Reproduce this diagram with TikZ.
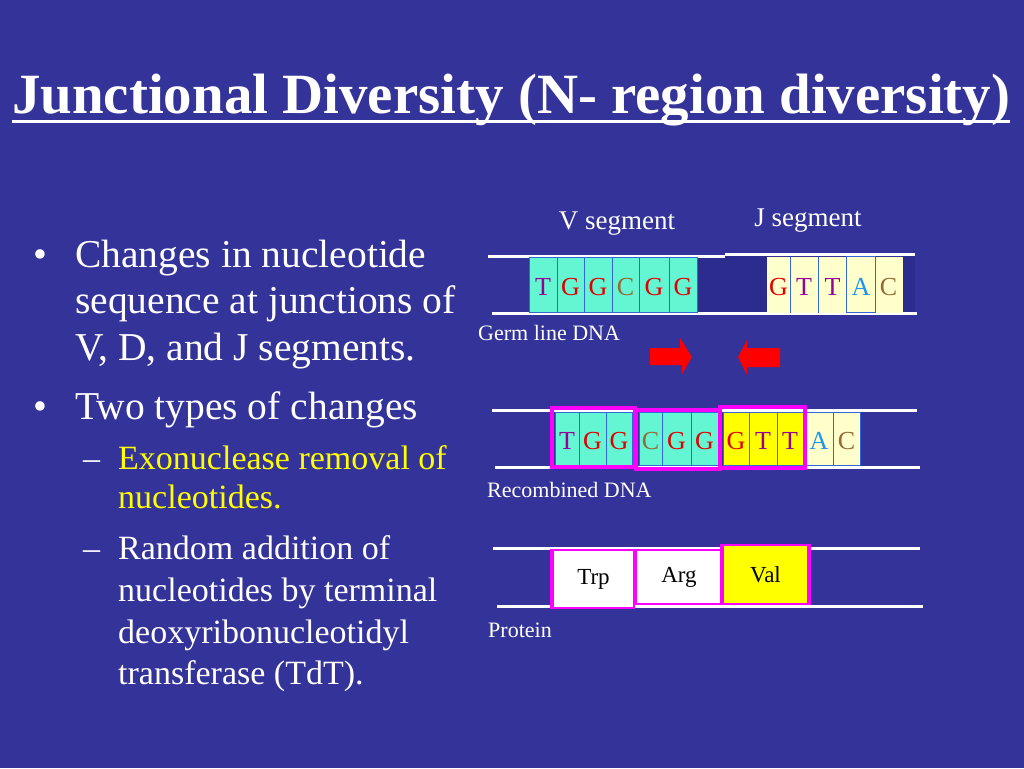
\documentclass[tikz,border=0pt]{standalone}
\usepackage{fontspec}
\setmainfont{Liberation Serif}
\usepackage{graphicx}
\definecolor{bg}{RGB}{51,51,153}
\definecolor{bgdark}{RGB}{44,44,142}
\definecolor{teal}{RGB}{100,245,210}
\definecolor{cream}{RGB}{255,255,204}
\definecolor{yel}{RGB}{255,255,0}
\definecolor{mag}{RGB}{255,0,255}
\definecolor{lred}{RGB}{225,0,0}
\definecolor{lpur}{RGB}{150,0,150}
\definecolor{lbrn}{RGB}{150,105,55}
\definecolor{lblu}{RGB}{30,150,235}
\definecolor{sep}{RGB}{51,102,214}
\definecolor{arrred}{RGB}{255,0,0}
\tikzset{
  txt/.style={anchor=base west, inner sep=0pt, text=white},
  mainfont/.style={font=\fontsize{39.5}{44}\selectfont},
  subfont/.style={font=\fontsize{34}{40}\selectfont},
  lbl/.style={anchor=base west, inner sep=0pt, text=white, font=\fontsize{22}{26}\selectfont},
  seglbl/.style={inner sep=0pt, text=white, font=\fontsize{27}{30}\selectfont},
  cell/.style={draw=sep, line width=1pt, inner sep=0pt, text height=22pt, text depth=0pt,
     font=\fontsize{26}{28}\selectfont},
  strand/.style={draw=white, line width=3pt},
  magbox/.style={draw=mag, line width=4pt},
  aa/.style={draw=mag, line width=1.5pt, inner sep=0pt, font=\fontsize{23}{26}\selectfont, text=black},
  redarrow/.style={fill=arrred}
}
\begin{document}
\begin{tikzpicture}[x=1pt,y=-1pt]
\fill[bg] (0,0) rectangle (1024,768);
\useasboundingbox (0,0) rectangle (1024,768);

% Title
\node[anchor=base west, inner sep=0pt, text=white] (title) at (12,113)
  {\resizebox{998pt}{!}{\fontsize{57}{60}\selectfont\bfseries Junctional Diversity (N- region diversity)}};
\coordinate (ulA) at (12,121);
\coordinate (ulB) at (1010,121);
\draw[white, line width=3pt] (ulA) -- (ulB);

% Bullets
\node[txt, mainfont] (b1) at (33,267) {\textbullet};
\node[txt, mainfont] (l1) at (75,267) {Changes in nucleotide};
\node[txt, mainfont] (l2) at (75,313) {sequence at junctions of};
\node[txt, mainfont] (l3) at (75,360) {V, D, and J segments.};
\node[txt, mainfont] (b2) at (33,419) {\textbullet};
\node[txt, mainfont] (l4) at (75,419) {Two types of changes};
\node[txt, subfont] (d1) at (83,469) {–};
\node[txt, subfont, text=yel] (l5) at (118,469) {Exonuclease removal of};
\node[txt, subfont, text=yel] (l6) at (118,508) {nucleotides.};
\node[txt, subfont] (d2) at (83,559) {–};
\node[txt, subfont] (l7) at (118,559) {Random addition of};
\node[txt, subfont] (l8) at (118,601) {nucleotides by terminal};
\node[txt, subfont] (l9) at (118,643) {deoxyribonucleotidyl};
\node[txt, subfont] (l10) at (118,684) {transferase (TdT).};

% Segment labels
\node[seglbl] (vseg) at (617,224) {V segment};
\node[seglbl] (jseg) at (808,221) {J segment};

% Germ line DNA
\fill[bgdark] (697,257) rectangle (725,312);
\fill[bgdark] (725,255) rectangle (767,313);
\fill[bgdark] (902,255) rectangle (915,313);
\coordinate (g1a) at (488,256); \coordinate (g1b) at (725,256);
\coordinate (g2a) at (725,254); \coordinate (g2b) at (915,254);
\coordinate (g3a) at (492,313); \coordinate (g3b) at (917,313);
\draw[strand] (g1a) -- (g1b);
\draw[strand] (g2a) -- (g2b);
\draw[strand] (g3a) -- (g3b);

\foreach \xa/\xb/\ltr/\col [count=\i] in {529/557/T/lpur, 557/584/G/lred, 584/612/G/lred, 612/639/C/lbrn, 639/669/G/lred, 669/697/G/lred}{
  \node[cell, fill=teal, text=\col, minimum width=\xb-\xa, minimum height=55] (gv\i) at ({(\xa+\xb)/2},284.5) {\ltr};
}
\foreach \xa/\xb/\ltr/\col [count=\i] in {767/790/G/lred, 790/818/T/lpur, 818/847/T/lpur, 847/875/A/lblu, 875/902/C/lbrn}{
  \node[cell, fill=cream, draw=cream, text=\col, minimum width=\xb-\xa, minimum height=55] (gj\i) at ({(\xa+\xb)/2},284.5) {\ltr};
}
\draw[sep, line width=1.5pt] (gj1.north east) -- (gj1.south east);
\draw[sep, line width=1.5pt] (gj2.north east) -- (gj2.south east);
\draw[sep, line width=1pt] (gj4.north west) rectangle (gj4.south east);

\node[lbl] (germ) at (478,340) {Germ line DNA};

% Red arrows
\coordinate (ra1) at (650,348); \coordinate (ra2) at (680,348); \coordinate (ra3) at (680,338);
\coordinate (ra4) at (692,357); \coordinate (ra5) at (682,374); \coordinate (ra6) at (682,365); \coordinate (ra7) at (650,365);
\fill[redarrow] (ra1) -- (ra2) -- (ra3) -- (ra4) -- (ra5) -- (ra6) -- (ra7) -- cycle;
\coordinate (la1) at (780,348); \coordinate (la2) at (747,348); \coordinate (la3) at (747,340);
\coordinate (la4) at (738,357); \coordinate (la5) at (747,375); \coordinate (la6) at (747,367); \coordinate (la7) at (780,367);
\fill[redarrow] (la1) -- (la2) -- (la3) -- (la4) -- (la5) -- (la6) -- (la7) -- cycle;

% Recombined DNA
\coordinate (r1a) at (492,410); \coordinate (r1b) at (917,410);
\coordinate (r2a) at (495,467); \coordinate (r2b) at (920,467);
\draw[strand] (r1a) -- (r1b);
\draw[strand] (r2a) -- (r2b);

\foreach \xa/\xb/\ltr/\col/\fil [count=\i] in {555/579/T/lpur/teal, 579/606/G/lred/teal, 606/632/G/lred/teal,
   639/662/C/lbrn/teal, 662/691/G/lred/teal, 691/718/G/lred/teal,
   723/749/G/lred/yel, 749/777/T/lpur/yel, 777/803/T/lpur/yel,
   805/833/A/lblu/cream, 833/860/C/lbrn/cream}{
  \node[cell, fill=\fil, text=\col, minimum width=\xb-\xa, minimum height=53] (rc\i) at ({(\xa+\xb)/2},438.5) {\ltr};
}
\node[magbox, minimum width=83, minimum height=59, inner sep=0pt] (mb1) at (593.5,437.5) {};
\node[magbox, minimum width=84, minimum height=59, inner sep=0pt] (mb2) at (678,439.5) {};
\node[magbox, minimum width=85, minimum height=61, inner sep=0pt] (mb3) at (762.5,437.5) {};

\node[lbl] (recomb) at (487,497) {Recombined DNA};

% Protein
\coordinate (p1a) at (493,548); \coordinate (p1b) at (920,548);
\coordinate (p2a) at (497,606); \coordinate (p2b) at (923,606);
\draw[strand] (p1a) -- (p1b);
\draw[strand] (p2a) -- (p2b);

\node[aa, fill=white, minimum width=81, minimum height=58] (trp) at (593.5,579) {Trp};
\node[aa, fill=white, minimum width=86, minimum height=54] (arg) at (679,577) {Arg};
\node[aa, fill=yel, minimum width=85, minimum height=59] (val) at (765.5,574.5) {Val};
\draw[mag, line width=4pt] (trp.north west) -- (trp.south west);
\draw[mag, line width=4pt] (val.north west) -- (val.south west);
\draw[mag, line width=4pt] (val.north east) -- (val.south east);

\node[lbl] (prot) at (488,637) {Protein};
\end{tikzpicture}
\end{document}
